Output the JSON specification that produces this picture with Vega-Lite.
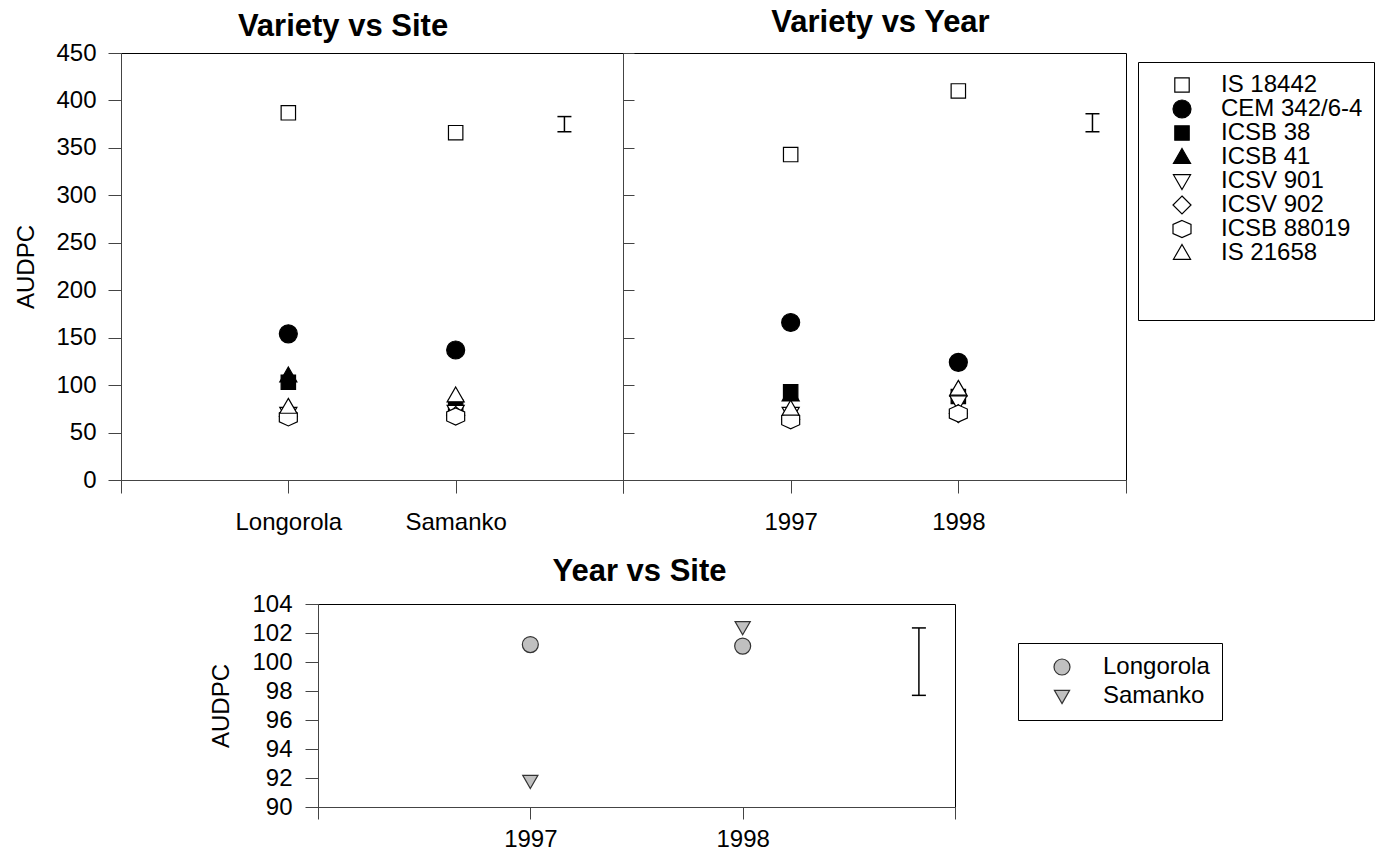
{
  "$schema": "https://vega.github.io/schema/vega-lite/v6.json",
  "background": "white",
  "padding": {"left": 14, "top": 6, "right": 0, "bottom": 0},
  "config": {
    "font": "Liberation Sans",
    "view": {"stroke": "black", "strokeWidth": 1},
    "axis": {
      "labelFont": "Liberation Sans", "labelFontSize": 24, "labelColor": "black",
      "titleFont": "Liberation Sans", "titleFontSize": 24, "titleFontWeight": "normal", "titleColor": "black",
      "domainColor": "#444", "tickColor": "#444", "grid": false, "tickSize": 13,
      "labelFlush": false, "labelOverlap": false
    },
    "title": {"font": "Liberation Sans", "fontSize": 31, "fontWeight": "bold", "color": "black", "anchor": "middle", "baseline": "alphabetic"}
  },
  "datasets": {
    "varsite": [
      {"site": "Longorola", "xpos": 1, "variety": "IS 18442", "audpc": 387},
      {"site": "Longorola", "xpos": 1, "variety": "CEM 342/6-4", "audpc": 154},
      {"site": "Longorola", "xpos": 1, "variety": "ICSB 38", "audpc": 103},
      {"site": "Longorola", "xpos": 1, "variety": "ICSB 41", "audpc": 110},
      {"site": "Longorola", "xpos": 1, "variety": "ICSV 901", "audpc": 70},
      {"site": "Longorola", "xpos": 1, "variety": "ICSV 902", "audpc": 67},
      {"site": "Longorola", "xpos": 1, "variety": "ICSB 88019", "audpc": 66},
      {"site": "Longorola", "xpos": 1, "variety": "IS 21658", "audpc": 77},
      {"site": "Samanko", "xpos": 2, "variety": "IS 18442", "audpc": 366},
      {"site": "Samanko", "xpos": 2, "variety": "CEM 342/6-4", "audpc": 137},
      {"site": "Samanko", "xpos": 2, "variety": "ICSB 38", "audpc": 77},
      {"site": "Samanko", "xpos": 2, "variety": "ICSB 41", "audpc": 76},
      {"site": "Samanko", "xpos": 2, "variety": "ICSV 901", "audpc": 72},
      {"site": "Samanko", "xpos": 2, "variety": "ICSV 902", "audpc": 68},
      {"site": "Samanko", "xpos": 2, "variety": "ICSB 88019", "audpc": 67},
      {"site": "Samanko", "xpos": 2, "variety": "IS 21658", "audpc": 89}
    ],
    "varyear": [
      {"year": "1997", "xpos": 1, "variety": "IS 18442", "audpc": 343},
      {"year": "1997", "xpos": 1, "variety": "CEM 342/6-4", "audpc": 166},
      {"year": "1997", "xpos": 1, "variety": "ICSB 38", "audpc": 93},
      {"year": "1997", "xpos": 1, "variety": "ICSB 41", "audpc": 90},
      {"year": "1997", "xpos": 1, "variety": "ICSV 901", "audpc": 70},
      {"year": "1997", "xpos": 1, "variety": "ICSV 902", "audpc": 64},
      {"year": "1997", "xpos": 1, "variety": "ICSB 88019", "audpc": 63},
      {"year": "1997", "xpos": 1, "variety": "IS 21658", "audpc": 75},
      {"year": "1998", "xpos": 2, "variety": "IS 18442", "audpc": 410},
      {"year": "1998", "xpos": 2, "variety": "CEM 342/6-4", "audpc": 124},
      {"year": "1998", "xpos": 2, "variety": "ICSB 38", "audpc": 88},
      {"year": "1998", "xpos": 2, "variety": "ICSB 41", "audpc": 95},
      {"year": "1998", "xpos": 2, "variety": "ICSV 901", "audpc": 82},
      {"year": "1998", "xpos": 2, "variety": "ICSV 902", "audpc": 70},
      {"year": "1998", "xpos": 2, "variety": "ICSB 88019", "audpc": 70},
      {"year": "1998", "xpos": 2, "variety": "IS 21658", "audpc": 96}
    ],
    "yearsite": [
      {"year": "1997", "xpos": 1, "site": "Longorola", "audpc": 101.2},
      {"year": "1998", "xpos": 2, "site": "Longorola", "audpc": 101.1},
      {"year": "1997", "xpos": 1, "site": "Samanko", "audpc": 91.8},
      {"year": "1998", "xpos": 2, "site": "Samanko", "audpc": 102.4}
    ],
    "err": [
      {"panel": "site", "xpos": 2.65, "lo": 367, "hi": 383},
      {"panel": "year", "xpos": 2.8, "lo": 367, "hi": 386},
      {"panel": "yearsite", "xpos": 2.83, "lo": 97.7, "hi": 102.35}
    ]
  },
  "resolve": {
    "scale": {"x": "independent", "y": "independent", "shape": "independent", "fill": "independent", "stroke": "independent"},
    "axis": {"x": "independent", "y": "independent"},
    "legend": {"shape": "independent", "fill": "independent", "stroke": "independent"}
  },
  "spacing": 20,
  "bounds": "full",
  "vconcat": [
    {
      "spacing": 0,
      "bounds": "flush",
      "resolve": {
        "scale": {"x": "independent", "y": "independent", "shape": "independent", "fill": "independent", "stroke": "independent"},
        "axis": {"x": "independent", "y": "independent"},
        "legend": {"shape": "independent", "fill": "independent", "stroke": "independent"}
      },
      "hconcat": [
        {
          "width": 502,
          "height": 427,
          "title": {"text": "Variety vs Site", "dx": -29, "offset": -2},
          "layer": [
            {
              "data": {"name": "varsite"},
              "mark": {"type": "point", "size": 324, "strokeWidth": 1.2, "opacity": 1},
              "encoding": {
                "x": {"field": "xpos", "type": "quantitative", "scale": {"domain": [0, 3], "nice": false, "zero": false},
                  "axis": {"values": [0, 1, 2, 3], "labelExpr": "datum.value == 1 ? 'Longorola' : datum.value == 2 ? 'Samanko' : ''", "title": null, "labelPadding": 17}},
                "y": {"field": "audpc", "type": "quantitative", "scale": {"domain": [0, 450], "nice": false},
                  "axis": {"values": [0, 50, 100, 150, 200, 250, 300, 350, 400, 450], "tickCount": 10, "title": "AUDPC", "titlePadding": 17, "labelPadding": 12, "labelOverlap": false}},
                "shape": {"field": "variety", "type": "nominal",
                  "scale": {"domain": ["IS 18442", "CEM 342/6-4", "ICSB 38", "ICSB 41", "ICSV 901", "ICSV 902", "ICSB 88019", "IS 21658"],
                    "range": ["M-0.8,-0.8H0.8V0.8H-0.8Z", "circle", "M-0.8,-0.8H0.8V0.8H-0.8Z", "M0,-0.95L0.95,0.7L-0.95,0.7Z", "M0,0.95L0.95,-0.7L-0.95,-0.7Z", "M0,-1L1,0L0,1L-1,0Z", "M0,-0.95L1,-0.5L1,0.5L0,0.95L-1,0.5L-1,-0.5Z", "M0,-0.95L0.95,0.7L-0.95,0.7Z"]},
                  "legend": null},
                "fill": {"field": "variety", "type": "nominal",
                  "scale": {"domain": ["IS 18442", "CEM 342/6-4", "ICSB 38", "ICSB 41", "ICSV 901", "ICSV 902", "ICSB 88019", "IS 21658"],
                    "range": ["white", "black", "black", "black", "white", "white", "white", "white"]},
                  "legend": null},
                "stroke": {"field": "variety", "type": "nominal",
                  "scale": {"domain": ["IS 18442", "CEM 342/6-4", "ICSB 38", "ICSB 41", "ICSV 901", "ICSV 902", "ICSB 88019", "IS 21658"],
                    "range": ["black", "black", "black", "black", "black", "black", "black", "black"]},
                  "legend": null}
              }
            },
            {
              "data": {"name": "err"},
              "transform": [{"filter": "datum.panel == 'site'"}],
              "mark": {"type": "rule", "stroke": "black", "strokeWidth": 1.5},
              "encoding": {"x": {"field": "xpos", "type": "quantitative"}, "y": {"field": "lo", "type": "quantitative"}, "y2": {"field": "hi"}}
            },
            {
              "data": {"name": "err"},
              "transform": [{"filter": "datum.panel == 'site'"}],
              "mark": {"type": "tick", "orient": "horizontal", "size": 14, "thickness": 1.5, "color": "black", "opacity": 1},
              "encoding": {"x": {"field": "xpos", "type": "quantitative"}, "y": {"field": "lo", "type": "quantitative"}}
            },
            {
              "data": {"name": "err"},
              "transform": [{"filter": "datum.panel == 'site'"}],
              "mark": {"type": "tick", "orient": "horizontal", "size": 14, "thickness": 1.5, "color": "black", "opacity": 1},
              "encoding": {"x": {"field": "xpos", "type": "quantitative"}, "y": {"field": "hi", "type": "quantitative"}}
            }
          ]
        },
        {
          "width": 503,
          "height": 427,
          "title": {"text": "Variety vs Year", "dx": 6, "offset": 14},
          "layer": [
            {
              "data": {"name": "varyear"},
              "mark": {"type": "point", "size": 324, "strokeWidth": 1.2, "opacity": 1},
              "encoding": {
                "x": {"field": "xpos", "type": "quantitative", "scale": {"domain": [0, 3], "nice": false, "zero": false},
                  "axis": {"values": [0, 1, 2, 3], "labelExpr": "datum.value == 1 ? '1997' : datum.value == 2 ? '1998' : ''", "title": null, "labelPadding": 17}},
                "y": {"field": "audpc", "type": "quantitative", "scale": {"domain": [0, 450], "nice": false},
                  "axis": {"values": [0, 50, 100, 150, 200, 250, 300, 350, 400, 450], "tickCount": 10, "title": null, "labels": false, "tickSize": -11}},
                "shape": {"field": "variety", "type": "nominal",
                  "scale": {"domain": ["IS 18442", "CEM 342/6-4", "ICSB 38", "ICSB 41", "ICSV 901", "ICSV 902", "ICSB 88019", "IS 21658"],
                    "range": ["M-0.8,-0.8H0.8V0.8H-0.8Z", "circle", "M-0.8,-0.8H0.8V0.8H-0.8Z", "M0,-0.95L0.95,0.7L-0.95,0.7Z", "M0,0.95L0.95,-0.7L-0.95,-0.7Z", "M0,-1L1,0L0,1L-1,0Z", "M0,-0.95L1,-0.5L1,0.5L0,0.95L-1,0.5L-1,-0.5Z", "M0,-0.95L0.95,0.7L-0.95,0.7Z"]},
                  "legend": {"orient": "none", "legendX": 515, "legendY": 9, "title": " ", "titleOrient": "bottom", "titleFontSize": 24, "titlePadding": 20,
                    "padding": 11, "rowPadding": 0, "symbolOffset": 21, "labelOffset": 27, "labelFontSize": 24, "labelFont": "Liberation Sans", "labelColor": "black",
                    "symbolSize": 324, "symbolStrokeWidth": 1.2, "strokeColor": "black", "fillColor": "white", "labelLimit": 400}},
                "fill": {"field": "variety", "type": "nominal",
                  "scale": {"domain": ["IS 18442", "CEM 342/6-4", "ICSB 38", "ICSB 41", "ICSV 901", "ICSV 902", "ICSB 88019", "IS 21658"],
                    "range": ["white", "black", "black", "black", "white", "white", "white", "white"]},
                  "legend": {"orient": "none", "legendX": 515, "legendY": 9, "title": " ", "titleOrient": "bottom", "titleFontSize": 24, "titlePadding": 20,
                    "padding": 11, "rowPadding": 0, "symbolOffset": 21, "labelOffset": 27, "labelFontSize": 24, "labelFont": "Liberation Sans", "labelColor": "black",
                    "symbolSize": 324, "symbolStrokeWidth": 1.2, "strokeColor": "black", "fillColor": "white", "labelLimit": 400}},
                "stroke": {"field": "variety", "type": "nominal",
                  "scale": {"domain": ["IS 18442", "CEM 342/6-4", "ICSB 38", "ICSB 41", "ICSV 901", "ICSV 902", "ICSB 88019", "IS 21658"],
                    "range": ["black", "black", "black", "black", "black", "black", "black", "black"]},
                  "legend": {"orient": "none", "legendX": 515, "legendY": 9, "title": " ", "titleOrient": "bottom", "titleFontSize": 24, "titlePadding": 20,
                    "padding": 11, "rowPadding": 0, "symbolOffset": 21, "labelOffset": 27, "labelFontSize": 24, "labelFont": "Liberation Sans", "labelColor": "black",
                    "symbolSize": 324, "symbolStrokeWidth": 1.2, "strokeColor": "black", "fillColor": "white", "labelLimit": 400}}
              }
            },
            {
              "data": {"name": "err"},
              "transform": [{"filter": "datum.panel == 'year'"}],
              "mark": {"type": "rule", "stroke": "black", "strokeWidth": 1.5},
              "encoding": {"x": {"field": "xpos", "type": "quantitative"}, "y": {"field": "lo", "type": "quantitative"}, "y2": {"field": "hi"}}
            },
            {
              "data": {"name": "err"},
              "transform": [{"filter": "datum.panel == 'year'"}],
              "mark": {"type": "tick", "orient": "horizontal", "size": 14, "thickness": 1.5, "color": "black", "opacity": 1},
              "encoding": {"x": {"field": "xpos", "type": "quantitative"}, "y": {"field": "lo", "type": "quantitative"}}
            },
            {
              "data": {"name": "err"},
              "transform": [{"filter": "datum.panel == 'year'"}],
              "mark": {"type": "tick", "orient": "horizontal", "size": 14, "thickness": 1.5, "color": "black", "opacity": 1},
              "encoding": {"x": {"field": "xpos", "type": "quantitative"}, "y": {"field": "hi", "type": "quantitative"}}
            }
          ]
        }
      ]
    },
    {
      "spacing": 0,
      "bounds": "flush",
      "resolve": {
        "scale": {"x": "independent", "y": "independent", "shape": "independent", "fill": "independent", "stroke": "independent"},
        "axis": {"x": "independent", "y": "independent"},
        "legend": {"shape": "independent", "fill": "independent", "stroke": "independent"}
      },
      "hconcat": [
        {
          "width": 197,
          "height": 203,
          "view": {"stroke": null},
          "data": {"values": []},
          "mark": "point",
          "encoding": {}
        },
        {
          "width": 637,
          "height": 203,
          "title": {"text": "Year vs Site", "dx": 3, "offset": 4},
          "layer": [
            {
              "data": {"name": "yearsite"},
              "mark": {"type": "point", "size": 256, "strokeWidth": 1.2, "opacity": 1, "filled": true},
              "encoding": {
                "x": {"field": "xpos", "type": "quantitative", "scale": {"domain": [0, 3], "nice": false, "zero": false},
                  "axis": {"values": [0, 1, 2, 3], "labelExpr": "datum.value == 1 ? '1997' : datum.value == 2 ? '1998' : ''", "title": null, "labelPadding": 8, "tickSize": 12}},
                "y": {"field": "audpc", "type": "quantitative", "scale": {"domain": [90, 104], "nice": false, "zero": false},
                  "axis": {"values": [90, 92, 94, 96, 98, 100, 102, 104], "tickCount": 8, "title": "AUDPC", "titlePadding": 18, "labelPadding": 13, "labelOverlap": false}},
                "shape": {"field": "site", "type": "nominal",
                  "scale": {"domain": ["Longorola", "Samanko"], "range": ["circle", "M0,0.95L0.95,-0.7L-0.95,-0.7Z"]},
                  "legend": {"orient": "none", "legendX": 700, "legendY": 39, "title": null, "padding": 12, "rowPadding": 5,
                    "symbolOffset": 20, "labelOffset": 29, "labelFontSize": 24, "labelFont": "Liberation Sans", "labelColor": "black",
                    "symbolSize": 256, "symbolStrokeWidth": 1.2, "strokeColor": "black", "fillColor": "white", "labelLimit": 400}},
                "fill": {"field": "site", "type": "nominal",
                  "scale": {"domain": ["Longorola", "Samanko"], "range": ["#c0c0c0", "#c0c0c0"]},
                  "legend": {"orient": "none", "legendX": 700, "legendY": 39, "title": null, "padding": 12, "rowPadding": 5,
                    "symbolOffset": 20, "labelOffset": 29, "labelFontSize": 24, "labelFont": "Liberation Sans", "labelColor": "black",
                    "symbolSize": 256, "symbolStrokeWidth": 1.2, "strokeColor": "black", "fillColor": "white", "labelLimit": 400}},
                "stroke": {"field": "site", "type": "nominal",
                  "scale": {"domain": ["Longorola", "Samanko"], "range": ["#333333", "#333333"]},
                  "legend": {"orient": "none", "legendX": 700, "legendY": 39, "title": null, "padding": 12, "rowPadding": 5,
                    "symbolOffset": 20, "labelOffset": 29, "labelFontSize": 24, "labelFont": "Liberation Sans", "labelColor": "black",
                    "symbolSize": 256, "symbolStrokeWidth": 1.2, "strokeColor": "black", "fillColor": "white", "labelLimit": 400}}
              }
            },
            {
              "data": {"name": "err"},
              "transform": [{"filter": "datum.panel == 'yearsite'"}],
              "mark": {"type": "rule", "stroke": "black", "strokeWidth": 1.5},
              "encoding": {"x": {"field": "xpos", "type": "quantitative"}, "y": {"field": "lo", "type": "quantitative"}, "y2": {"field": "hi"}}
            },
            {
              "data": {"name": "err"},
              "transform": [{"filter": "datum.panel == 'yearsite'"}],
              "mark": {"type": "tick", "orient": "horizontal", "size": 14, "thickness": 1.5, "color": "black", "opacity": 1},
              "encoding": {"x": {"field": "xpos", "type": "quantitative"}, "y": {"field": "lo", "type": "quantitative"}}
            },
            {
              "data": {"name": "err"},
              "transform": [{"filter": "datum.panel == 'yearsite'"}],
              "mark": {"type": "tick", "orient": "horizontal", "size": 14, "thickness": 1.5, "color": "black", "opacity": 1},
              "encoding": {"x": {"field": "xpos", "type": "quantitative"}, "y": {"field": "hi", "type": "quantitative"}}
            }
          ]
        }
      ]
    }
  ]
}
